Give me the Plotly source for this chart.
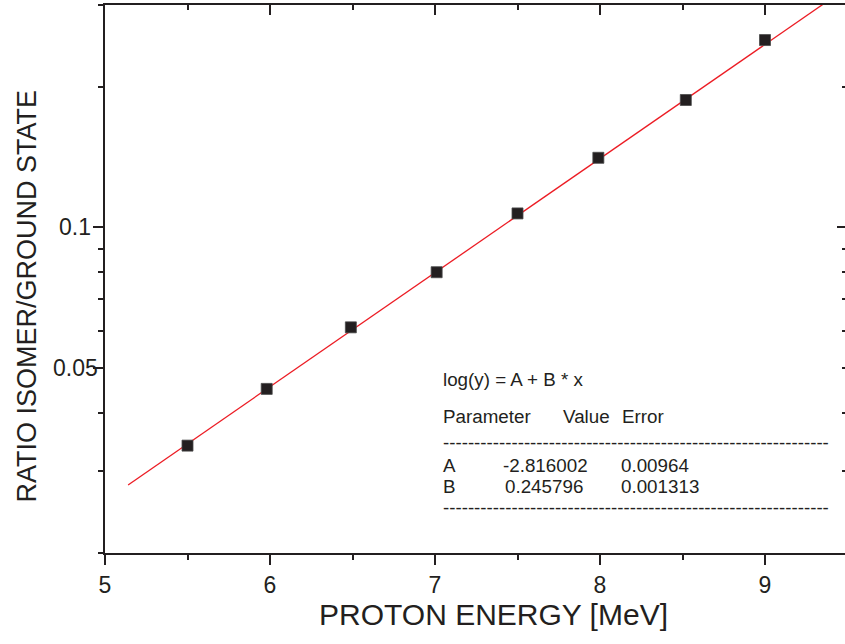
import math
import plotly.graph_objects as go

# ---- data ----
energy = [5.5, 5.98, 6.49, 7.01, 7.5, 7.99, 8.52, 9.0]
ratio = [0.0340, 0.0450, 0.0610, 0.0801, 0.1071, 0.1410, 0.1876, 0.2523]
fit_x = [5.14, 9.42]
fit_y = [0.0280, 0.3129]

x_major = [5, 6, 7, 8, 9]
x_minor = [5.5, 6.5, 7.5, 8.5]
y_major = [0.05, 0.1]
y_major_text = ["0.05", "0.1"]
y_minor = [0.02, 0.03, 0.04, 0.06, 0.07, 0.08, 0.09, 0.2, 0.3]
y_right_major = [0.1]
y_right_minor = [0.02, 0.03, 0.04, 0.05, 0.06, 0.07, 0.08, 0.09, 0.2, 0.3]

fit_title = "log(y) = A + B * x"
param_header = ["Parameter", "Value", "Error"]
param_names = ["A", "B"]
param_values = ["-2.816002", "0.245796"]
param_errors = ["0.00964", "0.001313"]

INK = "#231f20"
FONT = "Liberation Sans, Arial, sans-serif"
W, H = 845, 644
ML, MR, MT, MB = 105, 0, 5, 91
PW, PH = W - ML - MR, H - MT - MB
XR = [5, 5 + PW / 165.0]
YR = [-1.69897, -0.52288]


def px(xp):
    return (xp - ML) / PW


def py(yp):
    return (H - MB - yp) / PH


fig = go.Figure()
fig.add_trace(go.Scatter(x=fit_x, y=fit_y, mode="lines",
                         line=dict(color="#ec1c24", width=1.3),
                         hoverinfo="skip", showlegend=False))
fig.add_trace(go.Scatter(x=energy, y=ratio, mode="markers",
                         marker=dict(symbol="square", size=11, color=INK,
                                     line=dict(color="#4a4a4a", width=0.8)),
                         showlegend=False, cliponaxis=False))
# invisible trace to carry the mirrored (top/right) axes
fig.add_trace(go.Scatter(x=energy, y=ratio, xaxis="x2", yaxis="y2", mode="markers",
                         marker=dict(opacity=0), hoverinfo="skip", showlegend=False))

axis_common = dict(linecolor=INK, linewidth=2, tickcolor=INK, tickwidth=2,
                   showgrid=False, zeroline=False,
                   tickfont=dict(family=FONT, size=23, color=INK))

fig.update_layout(
    width=W, height=H,
    margin=dict(l=ML, r=MR, t=MT, b=MB, pad=0),
    paper_bgcolor="white", plot_bgcolor="white",
    font=dict(family=FONT, color=INK),
    xaxis=dict(range=XR, tickmode="array", tickvals=x_major,
               ticktext=[str(v) for v in x_major],
               ticks="outside", ticklen=10, showline=True,
               minor=dict(tickmode="array", tickvals=x_minor, ticks="outside",
                          ticklen=5, tickwidth=2, tickcolor=INK, showgrid=False),
               **axis_common),
    yaxis=dict(type="log", range=YR, tickmode="array", tickvals=y_major,
               showticklabels=False, ticks="outside", ticklen=10, showline=True,
               minor=dict(tickmode="array", tickvals=y_minor, ticks="outside",
                          ticklen=5, tickwidth=2, tickcolor=INK, showgrid=False),
               **axis_common),
    xaxis2=dict(overlaying="x", side="top", range=XR, tickmode="array",
                tickvals=x_major, ticks="inside", ticklen=10, showline=True,
                showticklabels=False,
                minor=dict(tickmode="array", tickvals=x_minor, ticks="inside",
                           ticklen=5, tickwidth=2, tickcolor=INK, showgrid=False),
                **axis_common),
    yaxis2=dict(overlaying="y", side="right", type="log", range=YR, tickmode="array",
                tickvals=y_right_major, ticks="inside", ticklen=8, showline=False,
                showticklabels=False,
                minor=dict(tickmode="array", tickvals=y_right_minor, ticks="inside",
                           ticklen=3, tickwidth=2, tickcolor=INK, showgrid=False),
                **axis_common),
)

ann = []
# y tick labels (centred, as in the reference)
for v, t in zip(y_major, y_major_text):
    ann.append(dict(text=t, x=px(75), y=math.log10(v), xref="paper", yref="y",
                    xanchor="center", yanchor="middle", showarrow=False,
                    font=dict(family=FONT, size=23, color=INK)))
# axis titles
ann.append(dict(text="PROTON ENERGY [MeV]", x=px(493), y=py(614), xref="paper", yref="paper",
                xanchor="center", yanchor="middle", showarrow=False,
                font=dict(family=FONT, size=30, color=INK)))
ann.append(dict(text="RATIO ISOMER/GROUND STATE", x=px(26), y=py(296.5), xref="paper",
                yref="paper", xanchor="center", yanchor="middle", showarrow=False,
                textangle=-90, font=dict(family=FONT, size=27, color=INK)))

tf = dict(family=FONT, size=18.8, color=INK)
df = dict(family=FONT, size=18.7, color=INK)


def add_text(t, xp, yp, font=tf):
    ann.append(dict(text=t, x=px(xp), y=py(yp), xref="paper", yref="paper",
                    xanchor="left", yanchor="middle", showarrow=False, font=font,
                    borderpad=0))


add_text(fit_title, 442, 379.5)
add_text(param_header[0], 442, 416.5)
add_text(param_header[1], 561.5, 416.5)
add_text(param_header[2], 620.5, 416.5)
dashes = "-" * 62
add_text(dashes, 442, 442.5, df)
for i, (n, v, e) in enumerate(zip(param_names, param_values, param_errors)):
    yrow = 465.5 + i * 21.2
    add_text(n, 442, yrow)
    add_text(v, 502 if v.startswith("-") else 504, yrow)
    add_text(e, 620, yrow)
add_text(dashes, 442, 507.5, df)

fig.update_layout(annotations=ann)
fig.write_html("out.html")
